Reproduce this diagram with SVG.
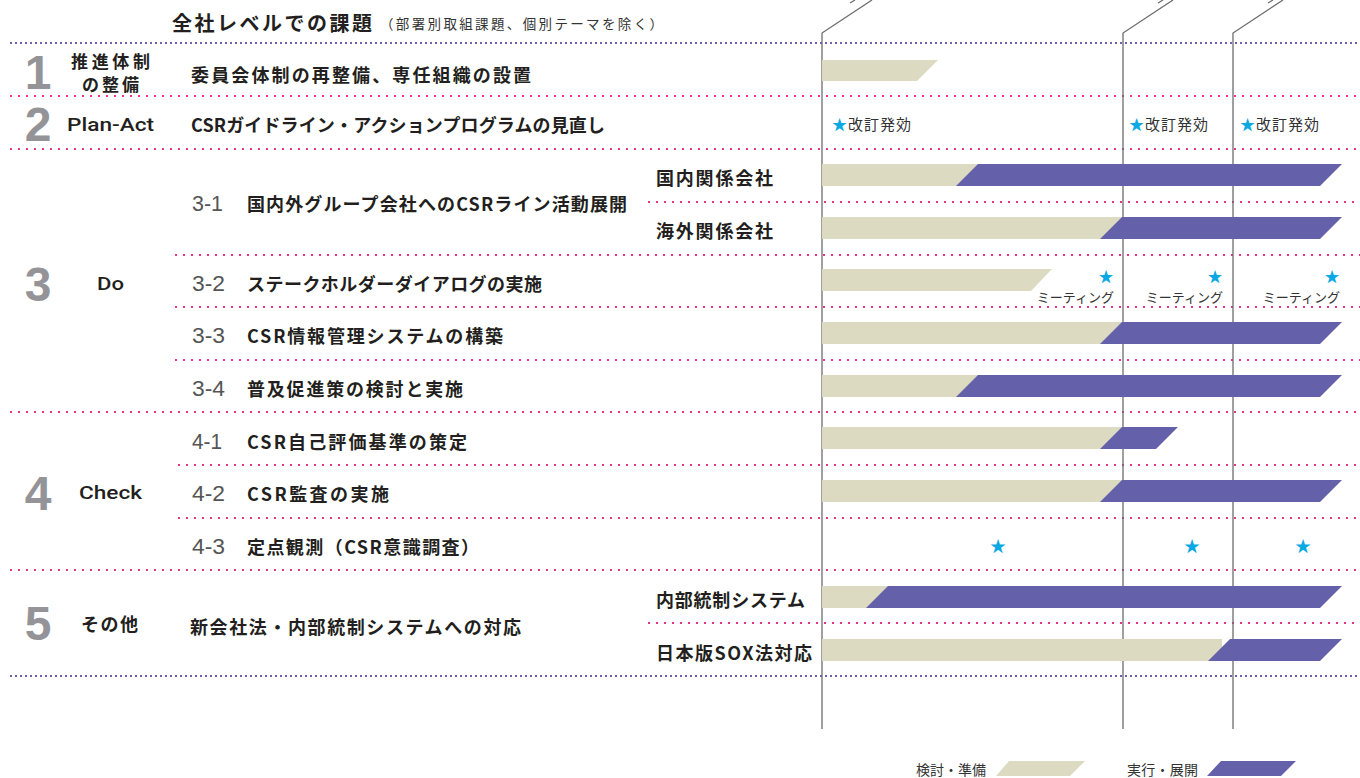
<svg xmlns="http://www.w3.org/2000/svg" width="1360" height="778" viewBox="0 0 1360 778">
<style>
.jp{font-family:"Noto Sans CJK JP","Noto Sans",sans-serif;font-size:18px;font-weight:700;fill:#231f20;dominant-baseline:central}
.jr{font-family:"Noto Sans CJK JP","Noto Sans",sans-serif;font-weight:400;fill:#333;dominant-baseline:central}
.en{font-family:Roboto,"Liberation Sans",sans-serif;font-size:18px;font-weight:500;fill:#231f20;dominant-baseline:central}
.num{font-family:"Liberation Sans",Arial,sans-serif;font-size:48px;font-weight:700;fill:#949498;text-anchor:middle}
.sub{font-family:"Liberation Sans",Arial,sans-serif;font-size:22px;font-weight:400;fill:#555;dominant-baseline:central}
.star{font-family:"Noto Sans CJK JP","DejaVu Sans",sans-serif;font-size:16px;fill:#0aa9e3;text-anchor:middle;dominant-baseline:central}
.pk{stroke:#e8338f;stroke-width:2;stroke-dasharray:2 6;fill:none}
.pu{stroke:#6a62b0;stroke-width:2;stroke-dasharray:2 3;fill:none}
.ax{stroke:#6d6d6d;stroke-width:1.3;fill:none}
.tan{fill:#dcdbc2}
.vio{fill:#6460aa}
</style>

<g id="gridlines">
<line class="pu" x1="10" y1="43" x2="1360" y2="43"/>
<line class="pk" x1="10" y1="96" x2="1360" y2="96"/>
<line class="pk" x1="10" y1="149" x2="1360" y2="149"/>
<line class="pk" x1="648" y1="202" x2="1360" y2="202"/>
<line class="pk" x1="175" y1="255" x2="1360" y2="255"/>
<line class="pk" x1="175" y1="307" x2="1360" y2="307"/>
<line class="pk" x1="175" y1="360" x2="1360" y2="360"/>
<line class="pk" x1="10" y1="412" x2="1360" y2="412"/>
<line class="pk" x1="178" y1="465" x2="1360" y2="465"/>
<line class="pk" x1="178" y1="518" x2="1360" y2="518"/>
<line class="pk" x1="10" y1="570" x2="1360" y2="570"/>
<line class="pk" x1="648" y1="623" x2="1360" y2="623"/>
<line class="pu" x1="10" y1="676" x2="1360" y2="676"/>
</g>

<g id="axes">
<path class="ax" d="M822,729 V33 L872,0"/>
<path class="ax" d="M1123,729 V33 L1173,0"/>
<path class="ax" d="M1233,729 V33 L1283,0"/>
<path class="ax" d="M850,3 L855,0"/>
<path class="ax" d="M1158,3 L1163,0"/>
<path class="ax" d="M1268,3 L1273,0"/>
</g>

<g id="header">
<text class="jp" x="172" y="22" textLength="200" lengthAdjust="spacing" style="font-size:20px">全社レベルでの課題</text>
<text class="jr" x="380" y="23" style="font-size:13.5px" textLength="283" lengthAdjust="spacing">（部署別取組課題、個別テーマを除く）</text>
</g>

<g id="row1">
<text class="num" x="38" y="89">1</text>
<text class="jp" x="71" y="60" style="font-size:17px" textLength="79" lengthAdjust="spacing">推進体制</text>
<text class="jp" x="82" y="83" style="font-size:17px" textLength="57" lengthAdjust="spacing">の整備</text>
<text class="jp" x="191" y="74" textLength="340" lengthAdjust="spacing">委員会体制の再整備、専任組織の設置</text>
<polygon class="tan" points="822,60 938,60 917,81 822,81"/>
</g>

<g id="row2">
<text class="num" x="38" y="141">2</text>
<text class="en" x="67" y="124" textLength="87" lengthAdjust="spacingAndGlyphs">Plan-Act</text>
<text class="jp" x="191" y="124" textLength="414" lengthAdjust="spacing">CSRガイドライン・アクションプログラムの見直し</text>
<text class="jr" x="832" y="123" style="font-size:15px" textLength="79" lengthAdjust="spacing"><tspan fill="#0aa9e3">★</tspan>改訂発効</text>
<text class="jr" x="1129" y="123" style="font-size:15px" textLength="79" lengthAdjust="spacing"><tspan fill="#0aa9e3">★</tspan>改訂発効</text>
<text class="jr" x="1240" y="123" style="font-size:15px" textLength="79" lengthAdjust="spacing"><tspan fill="#0aa9e3">★</tspan>改訂発効</text>
</g>

<g id="row3">
<text class="num" x="38" y="301">3</text>
<text class="en" x="97" y="283" textLength="27" lengthAdjust="spacingAndGlyphs">Do</text>
</g>

<g id="row3-1">
<text class="sub" x="192" y="203" textLength="31" lengthAdjust="spacingAndGlyphs">3-1</text>
<text class="jp" x="247" y="203" textLength="380" lengthAdjust="spacing">国内外グループ会社へのCSRライン活動展開</text>
<text class="jp" x="656" y="177" textLength="117" lengthAdjust="spacing">国内関係会社</text>
<text class="jp" x="656" y="230" textLength="117" lengthAdjust="spacing">海外関係会社</text>
<rect class="tan" x="822" y="164" width="170" height="22"/>
<polygon class="vio" points="978,164 1342,164 1320,186 956,186"/>
<rect class="tan" x="822" y="217" width="300" height="22"/>
<polygon class="vio" points="1122,217 1342,217 1320,239 1100,239"/>
</g>

<g id="row3-2">
<text class="sub" x="192" y="283" textLength="33" lengthAdjust="spacingAndGlyphs">3-2</text>
<text class="jp" x="247" y="283" textLength="295" lengthAdjust="spacing">ステークホルダーダイアログの実施</text>
<polygon class="tan" points="822,269 1052,269 1031,291 822,291"/>
<text class="star" x="1106" y="275" style="font-size:15px">★</text>
<text class="star" x="1215" y="275" style="font-size:15px">★</text>
<text class="star" x="1332" y="275" style="font-size:15px">★</text>
<text class="jr" x="1114" y="296" style="font-size:13px;text-anchor:end">ミーティング</text>
<text class="jr" x="1223" y="296" style="font-size:13px;text-anchor:end">ミーティング</text>
<text class="jr" x="1340" y="296" style="font-size:13px;text-anchor:end">ミーティング</text>
</g>

<g id="row3-3">
<text class="sub" x="192" y="335" textLength="33" lengthAdjust="spacingAndGlyphs">3-3</text>
<text class="jp" x="247" y="335" textLength="256" lengthAdjust="spacing">CSR情報管理システムの構築</text>
<rect class="tan" x="822" y="322" width="300" height="22"/>
<polygon class="vio" points="1122,322 1342,322 1320,344 1100,344"/>
</g>

<g id="row3-4">
<text class="sub" x="192" y="388" textLength="33" lengthAdjust="spacingAndGlyphs">3-4</text>
<text class="jp" x="247" y="388" textLength="216" lengthAdjust="spacing">普及促進策の検討と実施</text>
<rect class="tan" x="822" y="375" width="170" height="22"/>
<polygon class="vio" points="978,375 1342,375 1320,397 956,397"/>
</g>

<g id="row4">
<text class="num" x="38" y="510">4</text>
<text class="en" x="79" y="492" textLength="63" lengthAdjust="spacingAndGlyphs">Check</text>
</g>

<g id="row4-1">
<text class="sub" x="192" y="441" textLength="30" lengthAdjust="spacingAndGlyphs">4-1</text>
<text class="jp" x="247" y="441" textLength="220" lengthAdjust="spacing">CSR自己評価基準の策定</text>
<rect class="tan" x="822" y="427" width="300" height="22"/>
<polygon class="vio" points="1122,427 1178,427 1156,449 1100,449"/>
</g>

<g id="row4-2">
<text class="sub" x="192" y="493" textLength="33" lengthAdjust="spacingAndGlyphs">4-2</text>
<text class="jp" x="247" y="493" textLength="142" lengthAdjust="spacing">CSR監査の実施</text>
<rect class="tan" x="822" y="480" width="300" height="22"/>
<polygon class="vio" points="1122,480 1342,480 1320,502 1100,502"/>
</g>

<g id="row4-3">
<text class="sub" x="192" y="546" textLength="33" lengthAdjust="spacingAndGlyphs">4-3</text>
<text class="jp" x="247" y="546" textLength="232" lengthAdjust="spacing">定点観測（CSR意識調査）</text>
<text class="star" x="998" y="545">★</text>
<text class="star" x="1192" y="545">★</text>
<text class="star" x="1303" y="545">★</text>
</g>

<g id="row5">
<text class="num" x="38" y="640">5</text>
<text class="jp" x="81" y="623" textLength="57" lengthAdjust="spacing">その他</text>
<text class="jp" x="190" y="626" textLength="331" lengthAdjust="spacing">新会社法・内部統制システムへの対応</text>
<text class="jp" x="656" y="599" textLength="149" lengthAdjust="spacing">内部統制システム</text>
<text class="jp" x="656" y="652" textLength="156" lengthAdjust="spacing">日本版SOX法対応</text>
<rect class="tan" x="822" y="586" width="80" height="22"/>
<polygon class="vio" points="888,586 1342,586 1320,608 866,608"/>
<rect class="tan" x="822" y="639" width="400" height="22"/>
<polygon class="vio" points="1230,639 1342,639 1320,661 1208,661"/>
</g>

<g id="legend">
<text class="jr" x="916" y="769" style="font-size:14px" textLength="70" lengthAdjust="spacing">検討・準備</text>
<polygon class="tan" points="1009,761 1085,761 1070,776 996,776"/>
<text class="jr" x="1127" y="769" style="font-size:14px" textLength="71" lengthAdjust="spacing">実行・展開</text>
<polygon class="vio" points="1221,761 1296,761 1281,776 1207,776"/>
</g>
</svg>
